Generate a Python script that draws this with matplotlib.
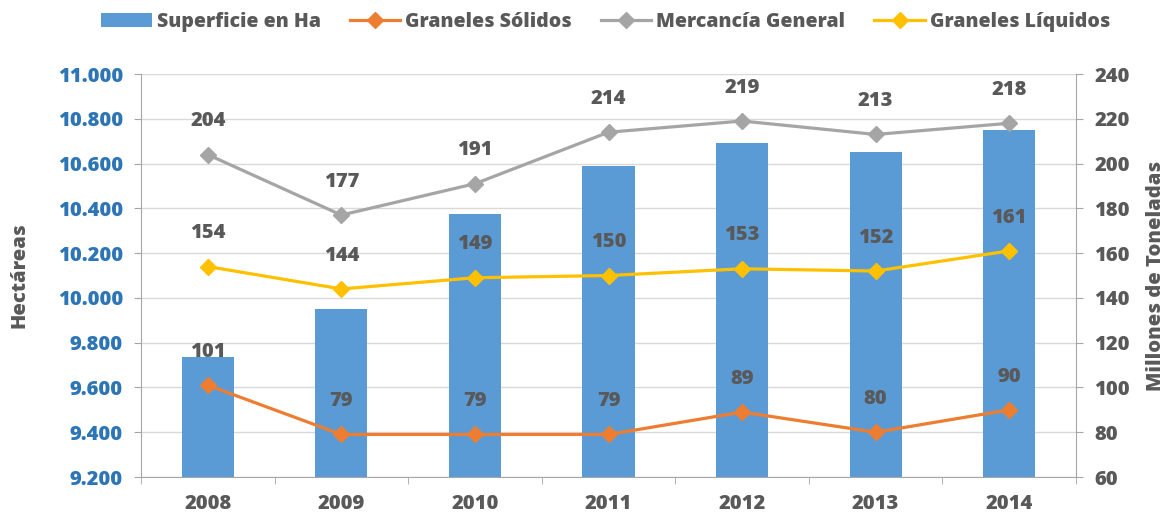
import matplotlib
matplotlib.use("Agg")
import matplotlib.pyplot as plt
import numpy as np

years = ["2008", "2009", "2010", "2011", "2012", "2013", "2014"]
superficie = [9736, 9950, 10375, 10590, 10693, 10652, 10752]
solidos = [101, 79, 79, 79, 89, 80, 90]
mercancia = [204, 177, 191, 214, 219, 213, 218]
liquidos = [154, 144, 149, 150, 153, 152, 161]

left_ticks = np.arange(9200, 11001, 200)
right_ticks = np.arange(60, 241, 20)

plt.rcParams['font.family'] = ['Open Sans', 'DejaVu Sans']
plt.rcParams['font.weight'] = 'heavy'

TXT = '#595959'
AXC = '#A6A6A6'
FS = 14.5
W = 'heavy'

fig = plt.figure(figsize=(11.76, 5.19), dpi=100)
ax = fig.add_axes([0.1199, 0.0809, 0.7951, 0.7765])
x = np.arange(len(years))

bars = ax.bar(x, superficie, width=0.39, color='#5B9BD5', zorder=2,
              label='Superficie en Ha')
ax.set_ylim(9200, 11000)
ax.set_yticks(left_ticks)
ax.set_yticklabels([f"{v/1000:.3f}" for v in left_ticks], color='#2E75B6',
                   fontsize=FS, fontweight=W)
ax.set_xlim(-0.5, 6.5)
ax.set_xticks(x)
ax.set_xticklabels(years, fontsize=FS, fontweight=W, color=TXT)
ax.set_xticks(np.arange(-0.5, 7, 1), minor=True)
ax.tick_params(axis='x', which='major', length=0, pad=12)
ax.tick_params(axis='x', which='minor', length=5, color=AXC)
ax.tick_params(axis='y', length=5, color=AXC, pad=8)
ax.grid(axis='y', color='#D9D9D9', linewidth=1, zorder=0)
ax.set_axisbelow(True)
ax.set_ylabel('Hectáreas', fontsize=FS, fontweight=W, color=TXT, labelpad=20)
for s in ['top', 'right']:
    ax.spines[s].set_visible(False)
for s in ['left', 'bottom']:
    ax.spines[s].set_color(AXC)

ax2 = ax.twinx()
ax2.set_ylim(60, 240)
ax2.set_yticks(right_ticks)
ax2.set_yticklabels([str(v) for v in right_ticks], fontsize=FS,
                    fontweight=W, color=TXT)
ax2.tick_params(axis='y', length=5, color=AXC, pad=8)
ax2.set_ylabel('Millones de Toneladas', fontsize=FS, fontweight=W,
               color=TXT, labelpad=12)
for s in ['top', 'left', 'bottom']:
    ax2.spines[s].set_visible(False)
ax2.spines['right'].set_color(AXC)

series = [
    ('Graneles Sólidos', solidos, '#ED7D31'),
    ('Mercancía General', mercancia, '#A5A5A5'),
    ('Graneles Líquidos', liquidos, '#FFC000'),
]
handles = [bars]
for name, vals, col in series:
    ln, = ax2.plot(x, vals, color=col, linewidth=2.3, marker='D',
                   markersize=8, label=name, zorder=3)
    handles.append(ln)
    for xi, v in zip(x, vals):
        ax2.annotate(str(v), (xi, v), xytext=(0, 24), textcoords='offset points',
                     ha='center', va='center', fontsize=FS, fontweight=W,
                     color=TXT, zorder=4)

fig.legend(handles, [h.get_label() for h in handles], loc='center',
           bbox_to_anchor=(0.515, 0.958), ncol=4, frameon=False,
           prop={'size': 14, 'weight': W}, labelcolor=TXT,
           handlelength=2.6, columnspacing=1.5, handletextpad=0.25)

fig.savefig('out.png', dpi=100)
